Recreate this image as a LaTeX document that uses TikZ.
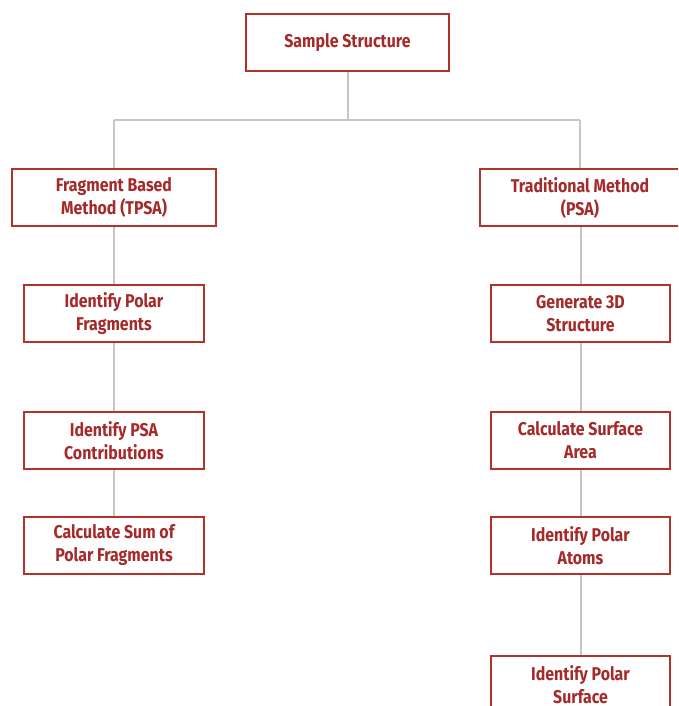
\documentclass[tikz,border=0pt]{standalone}
\usepackage{fontspec}
\setmainfont{Fira Sans}[FakeStretch=0.86]
\definecolor{boxred}{HTML}{B2332B}
\definecolor{txtred}{HTML}{A52A2A}
\definecolor{linegray}{HTML}{C6C6C6}
\begin{document}
\begin{tikzpicture}[x=1pt,y=-1pt,
  box/.style={draw=boxred, line width=2.4pt, fill=white, text=txtred,
    font=\fontsize{18.5}{23}\selectfont\bfseries, align=center, inner sep=0pt},
  link/.style={draw=linegray, line width=2pt}]
\clip (0,0) rectangle (678,706);
\useasboundingbox (0,0) rectangle (678,706);
\coordinate (jl) at (114,120);
\coordinate (jr) at (580,120);
\coordinate (jc) at (347.5,120);
\node[box, minimum width=203pt, minimum height=57pt] (s) at (347.5,42.5) {Sample Structure};
\node[box, minimum width=204pt, minimum height=57pt] (f) at (114,197.5) {Fragment Based\\Method (TPSA)};
\node[box, minimum width=200pt, minimum height=57pt] (t) at (580,197.5) {Traditional Method\\(PSA)};
\node[box, minimum width=180pt, minimum height=57pt] (l1) at (114,313.5) {Identify Polar\\Fragments};
\node[box, minimum width=180pt, minimum height=57pt] (l2) at (114,440.5) {Identify PSA\\Contributions};
\node[box, minimum width=180pt, minimum height=57pt] (l3) at (114,545.5) {Calculate Sum of\\Polar Fragments};
\node[box, minimum width=179pt, minimum height=57pt] (r1) at (580.5,313.5) {Generate 3D\\Structure};
\node[box, minimum width=179pt, minimum height=57pt] (r2) at (580.5,440.5) {Calculate Surface\\Area};
\node[box, minimum width=179pt, minimum height=57pt] (r3) at (580.5,545.5) {Identify Polar\\Atoms};
\node[box, minimum width=179pt, minimum height=57pt] (r4) at (580.5,684.5) {Identify Polar\\Surface};
\draw[link] (s.south) -- (jc);
\draw[link] (jl) -- (jr);
\draw[link] (jl) -- (f.north);
\draw[link] (jr) -- (t.north -| jr);
\draw[link] (f.south) -- (l1.north);
\draw[link] (l1.south) -- (l2.north);
\draw[link] (l2.south) -- (l3.north);
\draw[link] (t.south -| r1) -- (r1.north);
\draw[link] (r1.south) -- (r2.north);
\draw[link] (r2.south) -- (r3.north);
\draw[link] (r3.south) -- (r4.north);
\end{tikzpicture}
\end{document}
